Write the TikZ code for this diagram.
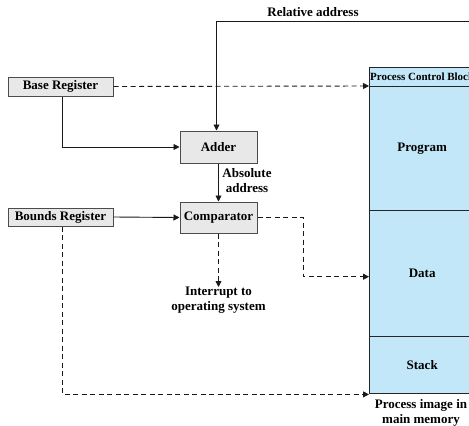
\documentclass[tikz,border=0pt]{standalone}
\usepackage{fontspec}
\setmainfont{Liberation Serif}
\usetikzlibrary{arrows.meta}
\definecolor{boxgray}{HTML}{E8E8E8}
\definecolor{memblue}{HTML}{C2E7F8}
\begin{document}
\begin{tikzpicture}[x=1pt,y=-1pt,
  font=\bfseries\fontsize{13}{15}\selectfont,
  regbox/.style={draw=black!70, fill=boxgray, line width=1pt, inner sep=0pt, align=center},
  memseg/.style={draw=black!85, fill=memblue, line width=1.4pt, inner sep=0pt, anchor=north west, minimum width=105pt, align=center},
  arr/.style={-{Triangle[length=6pt,width=6pt]}, line width=0.9pt, draw=black!90},
  dsh/.style={dash pattern=on 5pt off 3.5pt},
  lbl/.style={align=center, inner sep=0pt}]
\useasboundingbox (0,0) rectangle (469,426);
\clip (0,0) rectangle (469,426);
% registers and units
\node[regbox, minimum width=105pt, minimum height=19pt] (base) at (60.5,86.5) {Base Register};
\node[regbox, minimum width=105pt, minimum height=18pt] (bounds) at (60.5,217) {Bounds Register};
\node[regbox, minimum width=77pt, minimum height=32pt] (adder) at (218.5,147) {Adder};
\node[regbox, minimum width=77pt, minimum height=31pt] (comp) at (218.5,217.5) {Comparator};
% memory
\node[memseg, minimum height=19pt, font=\bfseries\fontsize{11}{12}\selectfont] (pcb) at (369,67) {Process Control Block};
\node[memseg, minimum height=124pt] (program) at (369,86) {Program};
\node[memseg, minimum height=126pt] (data) at (369,210) {Data};
\node[memseg, minimum height=57pt] (stack) at (369,336) {Stack};
% labels
\node[lbl] (rellbl) at (313,12) {Relative address};
\node[lbl] (abslbl) at (247,181) {Absolute\\address};
\node[lbl, anchor=north] (intr) at (218.5,287) {Interrupt to\\operating system};
\node[lbl] (imglbl) at (421,413) {Process image in\\main memory};
% connectors
\coordinate (relstart) at (470,21);
\draw[arr] (relstart) -- ([xshift=-2pt]adder.north |- relstart) -- ([xshift=-2pt]adder.north);
\draw[arr, dsh] (base.east) -- (program.north west);
\draw[arr] ([xshift=2pt]base.south) |- (adder.west);
\draw[arr] (adder.south) -- (comp.north);
\draw[arr] (bounds.east) -- (comp.west);
\draw[arr, dsh] (comp.east) -- ++(46,0) |- ([yshift=-3pt]data.west);
\draw[arr, dsh] (comp.south) -- (intr.north);
\draw[arr, dsh] ([xshift=2pt]bounds.south) |- (stack.south west);
\end{tikzpicture}
\end{document}
